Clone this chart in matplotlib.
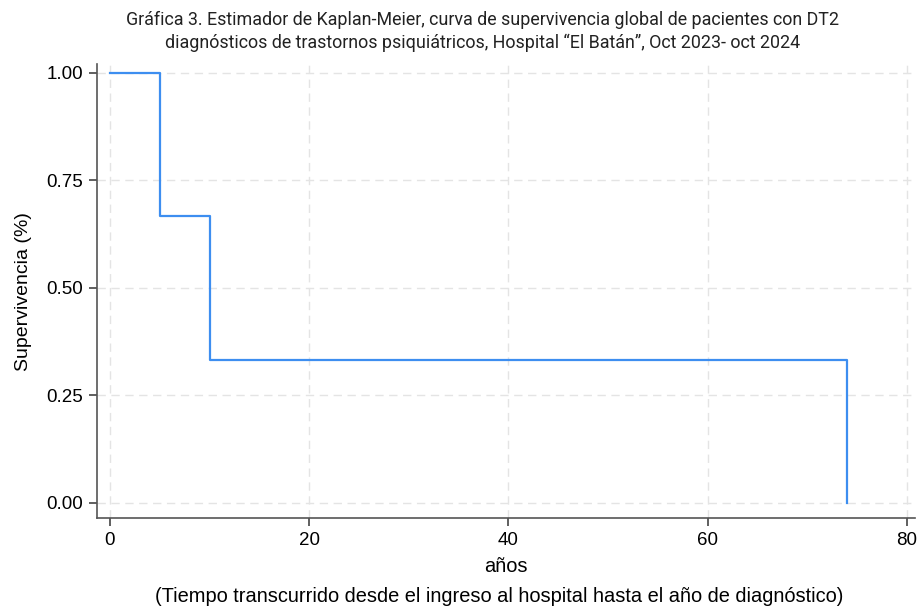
import matplotlib
matplotlib.use("Agg")
import matplotlib.pyplot as plt

# Kaplan-Meier estimate
tiempo = [0, 5, 10, 74]
supervivencia = [1.0, 0.6667, 0.3333, 0.0]
xticks = [0, 20, 40, 60, 80]
yticks = [0.0, 0.25, 0.5, 0.75, 1.0]
ylabels = ["0.00", "0.25", "0.50", "0.75", "1.00"]

plt.rcParams['font.family'] = ['Liberation Sans', 'DejaVu Sans']

fig = plt.figure(figsize=(9.2, 6.09), dpi=100)
ax = fig.add_axes([0.1054, 0.1494, 0.889, 0.745])

ax.step(tiempo, supervivencia, where='post', color='#3d8ef0', lw=1.6)

ax.set_xlim(-1.3, 80.8)
ax.set_ylim(-0.035, 1.02)
ax.set_xticks(xticks)
ax.set_yticks(yticks)
ax.set_yticklabels(ylabels)
ax.tick_params(labelsize=13.5, length=6, color='#444444', width=1.2, pad=4)
ax.grid(True, ls=(0, (6, 4)), color='#e4e4e4', lw=1)
ax.set_axisbelow(True)

for s in ['top', 'right']:
    ax.spines[s].set_visible(False)
for s in ['left', 'bottom']:
    ax.spines[s].set_color('#555555')
    ax.spines[s].set_linewidth(1.2)

ax.set_ylabel('Supervivencia (%)', fontsize=14, labelpad=10)
ax.set_xlabel('años', fontsize=14.4, labelpad=6)
fig.text(0.5424, 0.021,
         '(Tiempo transcurrido desde el ingreso al hospital hasta el año de diagnóstico)',
         ha='center', va='center', fontsize=14.4)

fig.text(0.525, 0.982,
         'Gráfica 3. Estimador de Kaplan-Meier, curva de supervivencia global de pacientes con DT2\n'
         'diagnósticos de trastornos psiquiátricos, Hospital “El Batán”, Oct 2023- oct 2024',
         ha='center', va='top', fontsize=12.9, family=['Roboto', 'DejaVu Sans'],
         color='#222222', linespacing=1.35)

fig.savefig('out.png', dpi=100)
